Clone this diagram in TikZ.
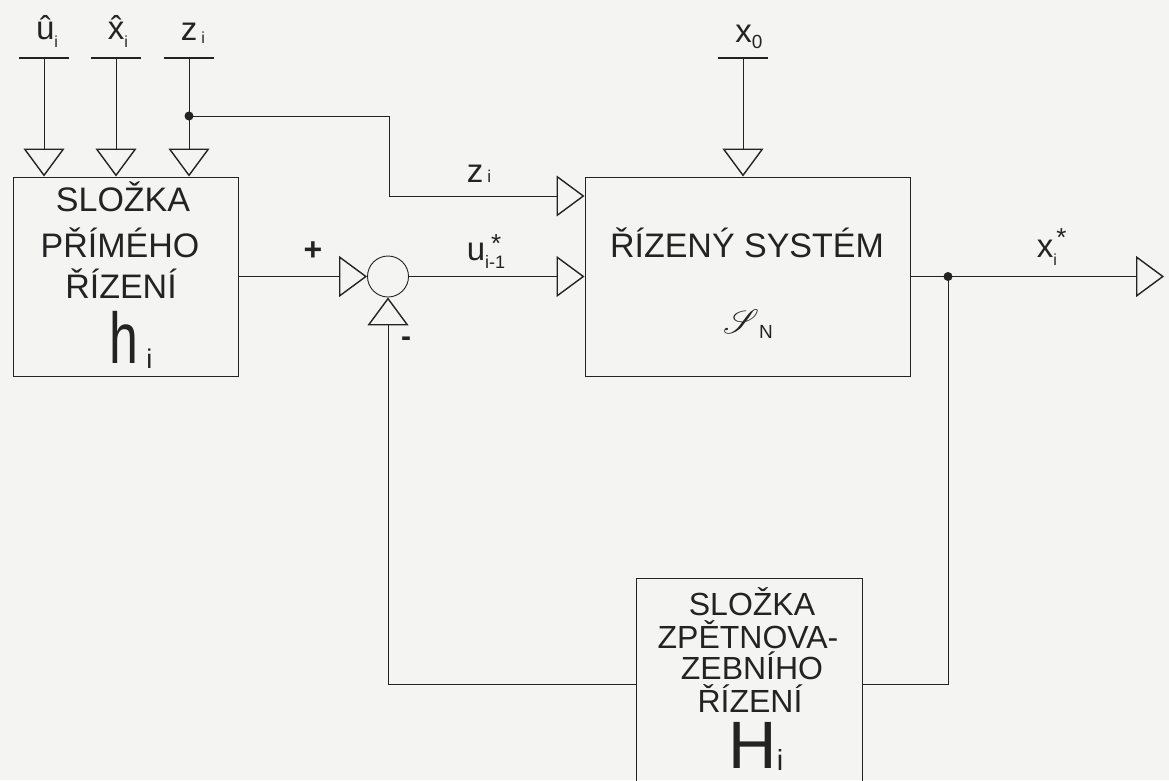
\documentclass[tikz,border=0pt]{standalone}
\usepackage{fontspec}
\setmainfont{Liberation Sans}
\usepackage{mathrsfs}
\usepackage{graphicx}
\usetikzlibrary{arrows.meta,calc}
\definecolor{ink}{RGB}{35,35,35}
\definecolor{paper}{RGB}{244,244,243}
\newcommand{\setfs}[1]{\fontsize{#1}{#1}\selectfont}
\begin{document}
\begin{tikzpicture}[x=1pt,y=-1pt,
  line/.style={draw=ink, line width=0.9pt},
  sig/.style={line, -{Triangle[open,length=28pt,width=41pt,line width=1.4pt]}},
  block/.style={draw=ink, line width=1pt, rectangle, inner sep=0pt},
  bar/.style={draw=ink, line width=1.6pt},
  txt/.style={anchor=base, inner sep=0pt, text=ink, font=\setfs{34}},
  ftxt/.style={anchor=base, inner sep=0pt, text=ink, font=\setfs{32}},
  lbl/.style={anchor=base, inner sep=0pt, text=ink, font=\setfs{33}},
  dot/.style={circle, fill=ink, inner sep=0pt, minimum size=9pt},
]
\fill[paper] (0,0) rectangle (1169,780);
\useasboundingbox (0,0) rectangle (1169,780);

% blocks
\node[block, minimum width=225pt, minimum height=199pt] (hb) at (125.5,276.5) {};
\node[block, minimum width=325pt, minimum height=199pt] (sys) at (747.5,276.5) {};
\node[block, minimum width=226pt, minimum height=212pt] (Hb) at (749.5,684) {};
\node[circle, draw=ink, line width=0.9pt, minimum size=41pt, inner sep=0pt] (sum) at (388,276.5) {};

% input bars
\coordinate (uin) at (44,58);
\coordinate (xin) at (116,58);
\coordinate (zin) at (189,58);
\coordinate (x0in) at (743,58);
\foreach \c in {uin,xin,zin,x0in} \draw[bar] ([xshift=-25pt]\c) -- ([xshift=25pt]\c);

% connectors
\draw[sig] (uin) -- (uin |- hb.north);
\draw[sig] (xin) -- (xin |- hb.north);
\draw[sig] (zin) -- (zin |- hb.north);
\coordinate (zdot) at (189,116);
\node[dot] (zdotn) at (zdot) {};
\coordinate (zturn) at (389,196);
\draw[sig] (zdot) -| (zturn) -- (zturn -| sys.west);
\draw[sig] (x0in) -- (x0in |- sys.north);
\draw[sig] (hb.east) -- (sum.west);
\draw[sig] (sum.east) -- (sum.east -| sys.west);
\coordinate (out) at (1164,276.5);
\coordinate (xdot) at (948,276.5);
\draw[sig] (sys.east) -- (out);
\node[dot] (xdotn) at (xdot) {};
\draw[line] (xdot) |- (Hb.east);
\draw[sig] (Hb.west) -| (sum.south);

% left block text
\node[txt] (t1) at (123,211) {SLOŽKA};
\node[txt] (t2) at (120,257) {PŘÍMÉHO};
\node[txt] (t3) at (121,298) {ŘÍZENÍ};
\node[txt] (t4) at (131,363) {\scalebox{0.72}[1]{\setfs{72}h}\hspace{8pt}\raisebox{-5pt}{\setfs{27}i}};

% system block text
\node[txt] (s1) at (747,257) {ŘÍZENÝ SYSTÉM};
\node[anchor=base, inner sep=0pt, text=ink] (s2) at (748,333) {{\setfs{10}\scalebox{3.4}{$\mathscr{S}$}}\raisebox{-5pt}{\setfs{19}N}};

% feedback block text
\node[ftxt] (f1) at (752,615) {SLOŽKA};
\node[ftxt] (f2) at (748,648) {ZPĚTNOVA-};
\node[ftxt] (f3) at (752,679) {ZEBNÍHO};
\node[ftxt] (f4) at (750,712) {ŘÍZENÍ};
\node[ftxt] (f5) at (756,768) {\setfs{67}H\raisebox{-2pt}{\setfs{29}i}};

% signal labels
\node[lbl] (l1) at (47,39) {\^{u}\raisebox{-8pt}{\setfs{16}i}};
\node[lbl] (l2) at (118,39) {\^{x}\raisebox{-8pt}{\setfs{16}i}};
\node[lbl] (l3) at (193,40) {z\hspace{4pt}\raisebox{-3pt}{\setfs{16}i}};
\node[lbl] (l4) at (749,42) {x\raisebox{-6pt}{\setfs{19}0}};
\node[lbl] (l5) at (479,182) {z\hspace{4pt}{\setfs{17}i}};
\node[lbl] (l6) at (486,260) {u\rlap{\raisebox{8pt}{\hspace{6pt}\setfs{26}*}}\raisebox{-8pt}{\setfs{18}i-1}};
\node[lbl] (l7) at (1047,257) {x\rlap{\raisebox{11pt}{\hspace{3pt}\setfs{26}*}}\raisebox{-8pt}{\setfs{16}i}};
\node[anchor=center, inner sep=0pt, text=ink, font=\setfs{32}\bfseries] (plus) at (313,251) {+};
\node[anchor=center, inner sep=0pt, text=ink, font=\setfs{30}\bfseries] (minus) at (406,342) {-};
\end{tikzpicture}
\end{document}
